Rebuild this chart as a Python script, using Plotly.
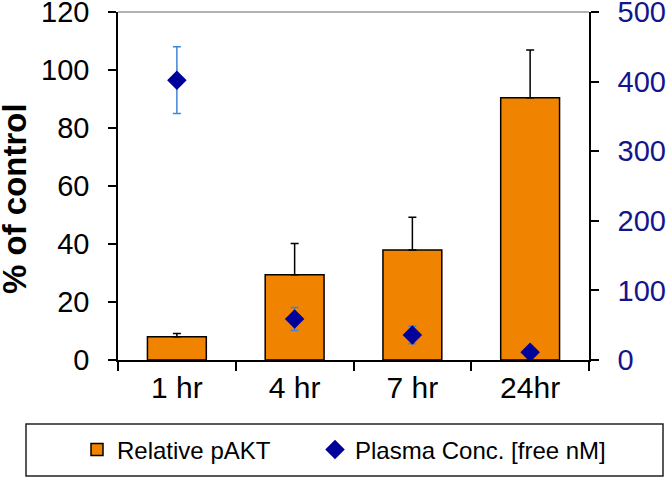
import plotly.graph_objects as go

categories = ["1 hr", "4 hr", "7 hr", "24hr"]
pakt = [8.0, 29.4, 37.9, 90.4]
pakt_err = [1.1, 10.8, 11.3, 16.5]
plasma = [402, 59, 36, 11]
plasma_err = [48, 16.5, 12.5, 3]

FONT = "Liberation Sans, Arial, sans-serif"
TICK = 29

fig = go.Figure()
fig.add_trace(go.Bar(
    x=categories, y=pakt, name="Relative pAKT",
    marker=dict(color="#F08300", line=dict(color="black", width=1.5)),
    width=0.5,
    error_y=dict(type="data", symmetric=False, array=pakt_err,
                 arrayminus=[0] * len(pakt), color="black", thickness=1.5, width=4),
    yaxis="y", legend="legend",
))
fig.add_trace(go.Scatter(
    x=categories, y=plasma, name="Plasma Conc. [free nM]", mode="markers",
    marker=dict(symbol="diamond", color="#00009A", size=15),
    error_y=dict(type="data", array=plasma_err, color="#3F86D8", thickness=1.5, width=4),
    yaxis="y2", legend="legend2",
))

legend_common = dict(
    orientation="h", xanchor="left", y=-0.2586, yanchor="middle",
    font=dict(size=24, family=FONT), bgcolor="rgba(0,0,0,0)", borderwidth=0,
)

fig.update_layout(
    width=667, height=478,
    margin=dict(l=118, r=78, t=12, b=118, autoexpand=False),
    paper_bgcolor="white", plot_bgcolor="white",
    font=dict(family=FONT, color="black"),
    showlegend=True,
    xaxis=dict(
        type="category", showline=True, linecolor="black", linewidth=1.5,
        ticks="outside", ticklen=9, tickwidth=1.5, tickcolor="black",
        tickson="boundaries", tickfont=dict(size=30, family=FONT),
        showgrid=False, zeroline=False, automargin=False,
    ),
    yaxis=dict(
        range=[0, 120], dtick=20, showline=True, linecolor="black", linewidth=1.5,
        ticks="outside", ticklen=8, tickwidth=1.5, tickcolor="black",
        tickfont=dict(size=TICK, family=FONT), ticklabelstandoff=13,
        ticklabeloverflow="allow",
        showgrid=False, zeroline=False, automargin=False,
    ),
    yaxis2=dict(
        range=[0, 500], dtick=100, overlaying="y", side="right",
        showline=True, linecolor="black", linewidth=1.5,
        ticks="outside", ticklen=8, tickwidth=1.5, tickcolor="black",
        tickfont=dict(size=TICK, family=FONT, color="#14148C"), ticklabelstandoff=13,
        ticklabeloverflow="allow",
        showgrid=False, zeroline=False, automargin=False,
    ),
    legend=dict(legend_common, x=(77 - 118) / 471),
    legend2=dict(legend_common, x=(315 - 118) / 471),
    annotations=[
        dict(text="<b>% of control</b>", xref="paper", yref="paper",
             x=(14 - 118) / 471, y=(360 - 199) / 348, xanchor="center", yanchor="middle",
             textangle=-90, showarrow=False, font=dict(size=33, family=FONT, color="black")),
    ],
    shapes=[
        dict(type="line", xref="paper", yref="paper", x0=0, x1=1, y0=1, y1=1,
             line=dict(color="#9A9A9A", width=1.5)),
        dict(type="rect", xref="paper", yref="paper",
             x0=(26 - 118) / 471, x1=(663 - 118) / 471,
             y0=(360 - 476) / 348, y1=(360 - 424) / 348,
             line=dict(color="#222222", width=1.5), fillcolor="rgba(0,0,0,0)"),
    ],
)

fig.write_html(
    "out.html",
    config={"displayModeBar": False},
    post_script="document.body.style.margin='0';document.body.style.overflow='hidden';",
)
